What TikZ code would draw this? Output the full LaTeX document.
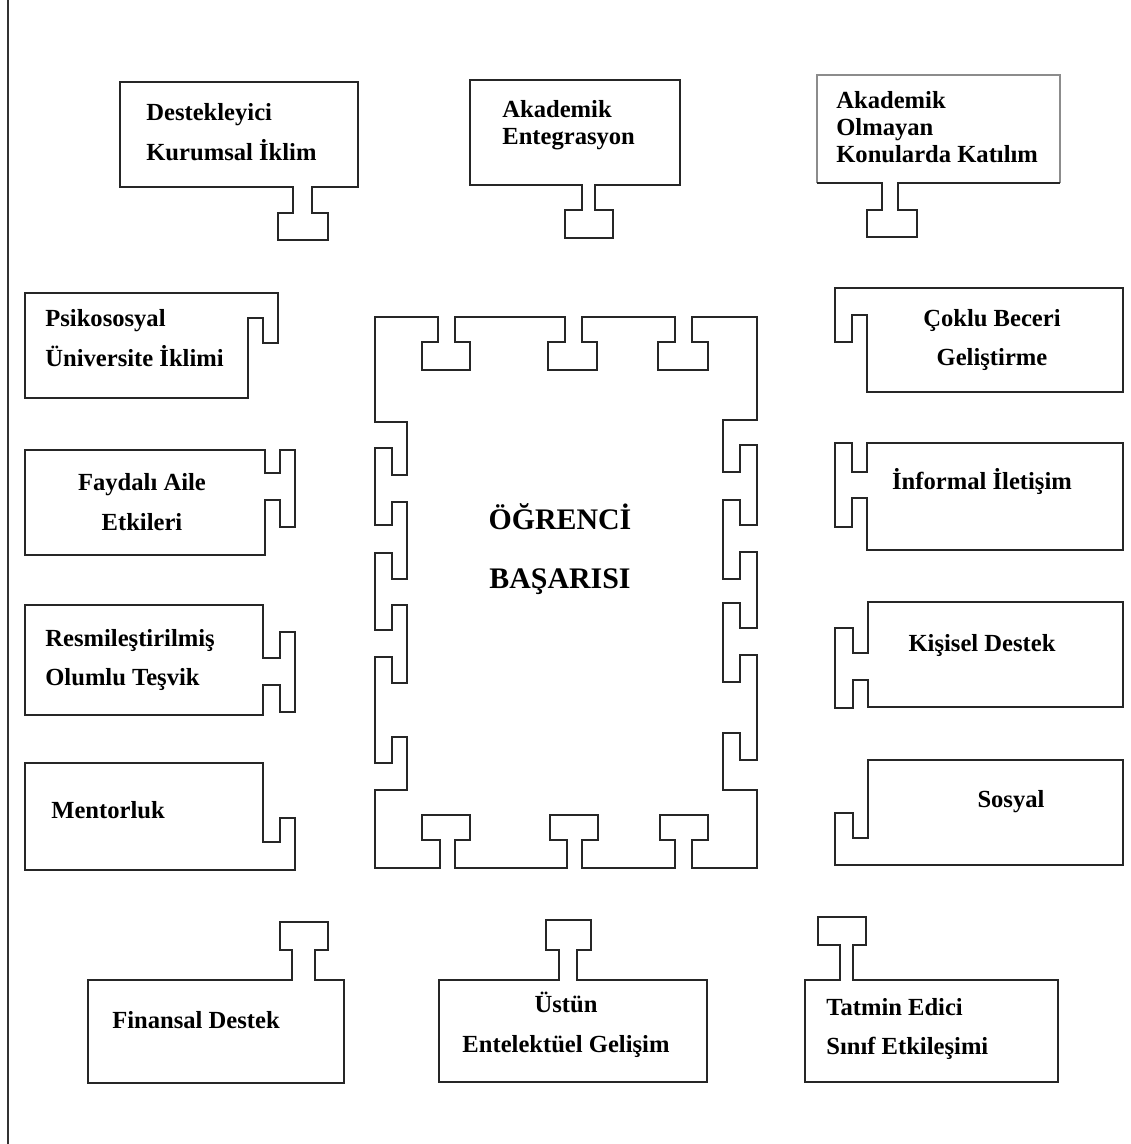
\documentclass[tikz,border=0pt]{standalone}
\usepackage{fontspec}
\setmainfont{Liberation Serif}
\usepackage{tikz}
\usetikzlibrary{positioning}

\tikzset{
  piece/.style={draw=black!85,line width=1.4pt,line join=miter,fill=white},
  faint/.style={draw=black!45,line width=0.6pt},
  lbl/.style={draw=none,align=left,inner sep=0pt,font=\fontsize{14}{22.7}\selectfont\bfseries},
  lbltight/.style={lbl,font=\fontsize{14}{15.5}\selectfont\bfseries},
  midlbl/.style={draw=none,align=center,inner sep=0pt,font=\fontsize{17}{34}\selectfont\bfseries}
}

\begin{document}
\begin{tikzpicture}[x=0.02cm,y=-0.02cm]

\useasboundingbox (0,0) rectangle (1131,1144);
\fill[white] (0,0) rectangle (1131,1144);

\coordinate (lt) at (8,0);
\coordinate (lb) at (8,1144);
\draw[black!80,line width=1.6pt] (lt) -- (lb);

% centre piece
\draw[piece] (375,317) -- (438,317) -- (438,342) -- (422,342) -- (422,370) -- (470,370) -- (470,342) -- (455,342) -- (455,317)
  -- (565,317) -- (565,342) -- (548,342) -- (548,370) -- (597,370) -- (597,342) -- (582,342) -- (582,317)
  -- (675,317) -- (675,342) -- (658,342) -- (658,370) -- (708,370) -- (708,342) -- (692,342) -- (692,317)
  -- (757,317) -- (757,420) -- (723,420) -- (723,472) -- (740,472) -- (740,445) -- (757,445) -- (757,525)
  -- (740,525) -- (740,500) -- (723,500) -- (723,579) -- (740,579) -- (740,552) -- (757,552) -- (757,628)
  -- (740,628) -- (740,603) -- (723,603) -- (723,682) -- (740,682) -- (740,655) -- (757,655) -- (757,760)
  -- (740,760) -- (740,733) -- (723,733) -- (723,790) -- (757,790) -- (757,868)
  -- (692,868) -- (692,840) -- (708,840) -- (708,815) -- (660,815) -- (660,840) -- (675,840) -- (675,868)
  -- (582,868) -- (582,840) -- (598,840) -- (598,815) -- (550,815) -- (550,840) -- (567,840) -- (567,868)
  -- (455,868) -- (455,840) -- (470,840) -- (470,815) -- (422,815) -- (422,840) -- (440,840) -- (440,868)
  -- (375,868) -- (375,790) -- (407,790) -- (407,737) -- (392,737) -- (392,763) -- (375,763) -- (375,657)
  -- (392,657) -- (392,683) -- (407,683) -- (407,605) -- (392,605) -- (392,630) -- (375,630) -- (375,553)
  -- (392,553) -- (392,579) -- (407,579) -- (407,502) -- (392,502) -- (392,525) -- (375,525) -- (375,448)
  -- (392,448) -- (392,475) -- (407,475) -- (407,422) -- (375,422) -- cycle;
\node[midlbl] (basari) at (560,549) {ÖĞRENCİ\\BAŞARISI};

% top row
\draw[piece] (120,82) -- (358,82) -- (358,187) -- (312,187) -- (312,213) -- (328,213) -- (328,240) -- (278,240)
  -- (278,213) -- (293,213) -- (293,187) -- (120,187) -- cycle;
\node[lbl,anchor=west] (iklim) at (146,132) {Destekleyici\\Kurumsal İklim};

\draw[piece] (470,80) -- (680,80) -- (680,185) -- (595,185) -- (595,210) -- (613,210) -- (613,238) -- (565,238)
  -- (565,210) -- (582,210) -- (582,185) -- (470,185) -- cycle;
\node[lbltight,anchor=west] (entegr) at (502,125) {Akademik\\Entegrasyon};

\fill[white] (817,75) rectangle (1060,183);
\draw[faint] (817,183) -- (817,75) -- (1060,75) -- (1060,183);
\draw[piece,fill=none] (1060,183) -- (898,183) -- (898,210) -- (917,210) -- (917,237) -- (867,237) -- (867,210)
  -- (882,210) -- (882,183) -- (817,183);
\node[lbltight,anchor=west] (katilim) at (836,127) {Akademik\\Olmayan\\Konularda Katılım};

% left column
\draw[piece] (25,293) -- (278,293) -- (278,343) -- (263,343) -- (263,318) -- (248,318) -- (248,398) -- (25,398) -- cycle;
\node[lbl,anchor=west] (psiko) at (45,338) {Psikososyal\\Üniversite İklimi};

\draw[piece] (25,450) -- (265,450) -- (265,473) -- (280,473) -- (280,450) -- (295,450) -- (295,527) -- (280,527)
  -- (280,500) -- (265,500) -- (265,555) -- (25,555) -- cycle;
\node[lbl,align=center] (aile) at (142,502) {Faydalı Aile\\Etkileri};

\draw[piece] (25,605) -- (263,605) -- (263,658) -- (280,658) -- (280,632) -- (295,632) -- (295,712) -- (280,712)
  -- (280,685) -- (263,685) -- (263,715) -- (25,715) -- cycle;
\node[lbl,anchor=west] (tesvik) at (45,660) {Resmileştirilmiş\\Olumlu Teşvik};

\draw[piece] (25,763) -- (263,763) -- (263,842) -- (280,842) -- (280,818) -- (295,818) -- (295,870) -- (25,870) -- cycle;
\node[lbl,anchor=west] (mentor) at (51,810) {Mentorluk};

% right column
\draw[piece] (1123,288) -- (835,288) -- (835,342) -- (852,342) -- (852,315) -- (867,315) -- (867,392) -- (1123,392) -- cycle;
\node[lbl,align=center] (beceri) at (992,340) {Çoklu Beceri\\Geliştirme};

\draw[piece] (1123,443) -- (867,443) -- (867,472) -- (852,472) -- (852,443) -- (835,443) -- (835,527) -- (852,527)
  -- (852,498) -- (867,498) -- (867,550) -- (1123,550) -- cycle;
\node[lbl] (iletisim) at (982,481) {İnformal İletişim};

\draw[piece] (1123,602) -- (868,602) -- (868,653) -- (853,653) -- (853,628) -- (835,628) -- (835,708) -- (853,708)
  -- (853,680) -- (868,680) -- (868,707) -- (1123,707) -- cycle;
\node[lbl] (kisisel) at (982,645) {Kişisel Destek};

\draw[piece] (1123,760) -- (868,760) -- (868,838) -- (853,838) -- (853,813) -- (835,813) -- (835,865) -- (1123,865) -- cycle;
\node[lbl] (sosyal) at (1011,802) {Sosyal};

% bottom row
\draw[piece] (88,980) -- (292,980) -- (292,950) -- (280,950) -- (280,922) -- (328,922) -- (328,950) -- (315,950)
  -- (315,980) -- (344,980) -- (344,1083) -- (88,1083) -- cycle;
\node[lbl,anchor=west] (finans) at (112,1020) {Finansal Destek};

\draw[piece] (439,980) -- (559,980) -- (559,950) -- (546,950) -- (546,920) -- (591,920) -- (591,950) -- (577,950)
  -- (577,980) -- (707,980) -- (707,1082) -- (439,1082) -- cycle;
\node[lbl,align=center] (gelisim) at (566,1025) {Üstün\\Entelektüel Gelişim};

\draw[piece] (805,980) -- (840,980) -- (840,945) -- (818,945) -- (818,917) -- (866,917) -- (866,945) -- (853,945)
  -- (853,980) -- (1058,980) -- (1058,1082) -- (805,1082) -- cycle;
\node[lbl,anchor=west] (sinif) at (826,1029) {Tatmin Edici\\Sınıf Etkileşimi};

\end{tikzpicture}
\end{document}
